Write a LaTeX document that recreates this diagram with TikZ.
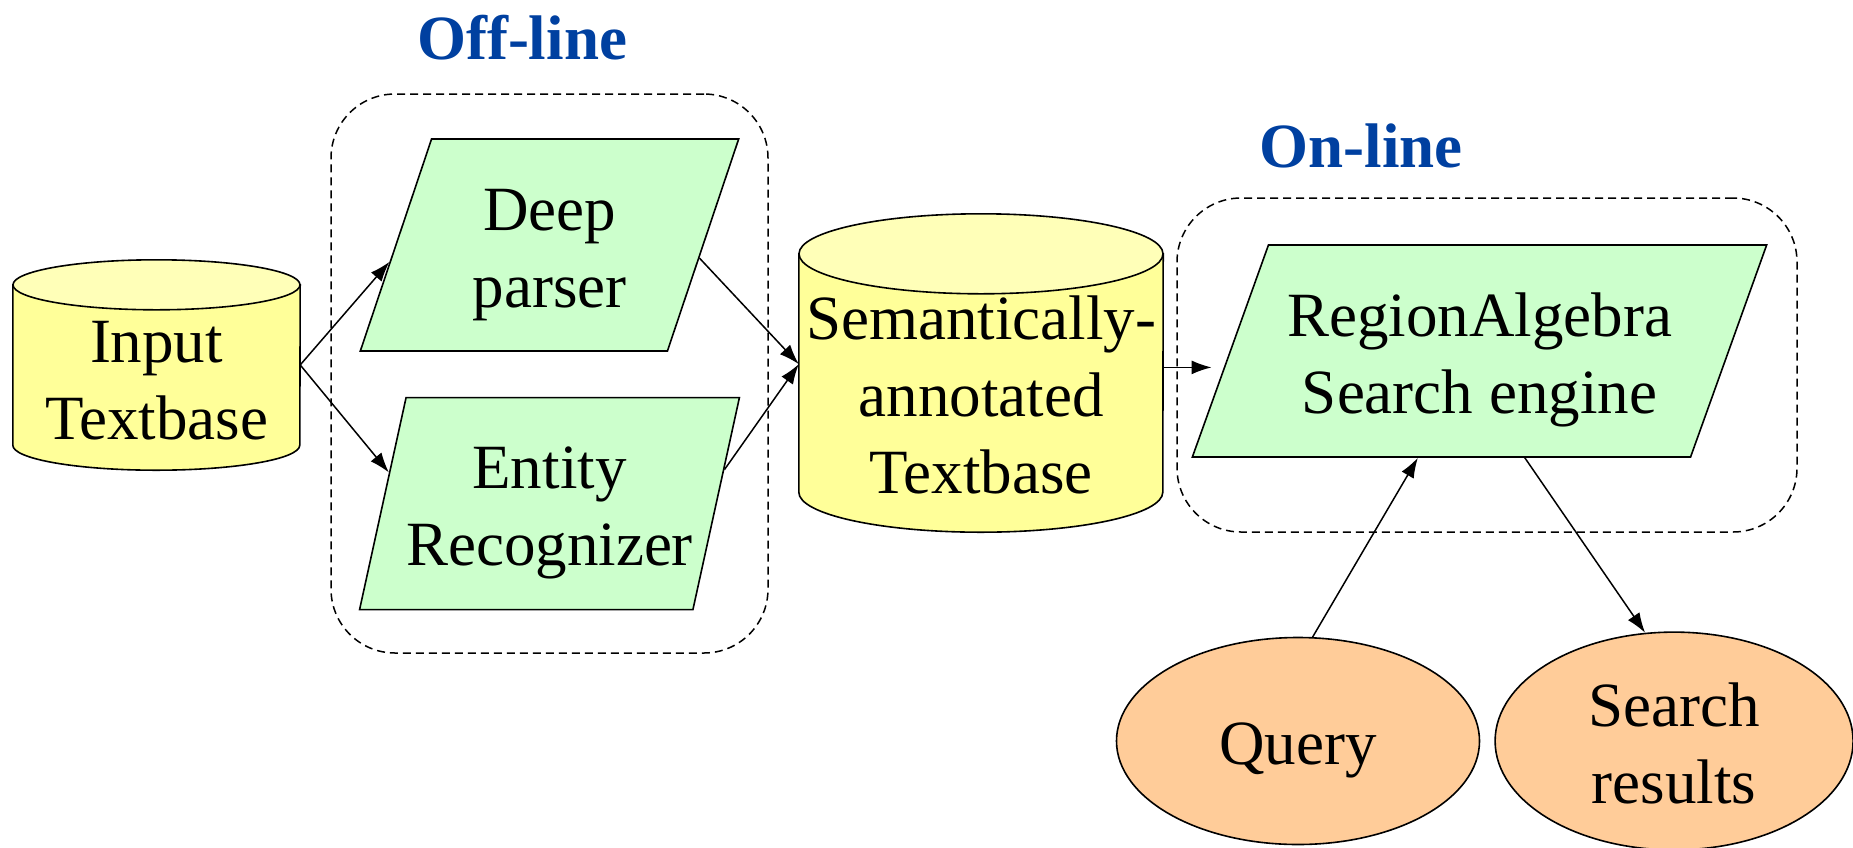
\documentclass[tikz,border=0pt]{standalone}
\usepackage{fontspec}
\setmainfont{Liberation Serif}
\usetikzlibrary{shapes.geometric, positioning, arrows.meta, backgrounds}

\definecolor{dbbody}{RGB}{255,255,153}
\definecolor{dbtop}{RGB}{255,255,184}
\definecolor{procfill}{RGB}{204,255,204}
\definecolor{iofill}{RGB}{255,204,153}
\definecolor{phaseblue}{RGB}{0,64,160}

% line strut: 62pt above, 15pt below the baseline
\newcommand{\ls}{\rule[-15pt]{0pt}{77pt}}
% database drum behind a text node: node, x radius, y radius
\newcommand{\dbshape}[3]{%
	\begin{pgfonlayer}{background}
		\draw [dbline, fill=dbbody] (#1.north west) -- ([yshift=#3]#1.south west)
			arc [start angle=180, end angle=360, x radius=#2, y radius=#3]
			-- (#1.north east) -- cycle;
		\draw [dbline, fill=dbtop] (#1.north) ellipse [x radius=#2, y radius=#3];
	\end{pgfonlayer}}

\begin{document}
\begin{tikzpicture}[x=1pt, y=-1pt, >={Latex[length=20pt,width=14pt]},
	font=\fontsize{63}{77}\selectfont,
	every node/.style={align=center, inner sep=0pt, execute at end node=\ls},
	dbline/.style={draw, line width=1.6pt},
	store/.style={rectangle},
	proc/.style={trapezium, trapezium stretches=true, draw, line width=1.6pt,
		fill=procfill, minimum height=212pt},
	io/.style={ellipse, draw, line width=1.6pt, fill=iofill,
		minimum width=363pt, minimum height=207pt},
	groupbox/.style={draw, line width=1.5pt, dash pattern=on 8pt off 5pt,
		rounded corners=64pt},
	phase/.style={font=\fontsize{63}{77}\selectfont\bfseries, text=phaseblue}]
	\useasboundingbox (0,0) rectangle (1853,847);

	% dashed groups
	\node (offbox) [groupbox, minimum width=437pt, minimum height=559pt] at (549.5,373.5) {};
	\node (onbox) [groupbox, minimum width=620pt, minimum height=334pt] at (1487,365) {};
	\node (offtitle) [phase, anchor=base] at (522,59) {Off-line};
	\node (ontitle) [phase, anchor=base] at (1361,167) {On-line};

	\node (input) [store, minimum width=287pt, minimum height=185pt] at (156.5,377.5) {\ls Input\\Textbase};
	\dbshape{input}{143.5pt}{25pt}
	\node (deep) [proc, minimum width=379pt, trapezium left angle=73.2, trapezium right angle=106.8] at (549.5,245) {\ls Deep\\parser};
	\node (entity) [proc, minimum width=379pt, trapezium left angle=73.2, trapezium right angle=106.8, below=45pt of deep] {\ls Entity\\Recognizer};
	\node (sem) [store, minimum width=364pt, minimum height=278pt] at (981,393) {\ls Semantically-\\annotated\\Textbase};
	\dbshape{sem}{182pt}{40pt}
	\node (region) [proc, minimum width=575pt, trapezium left angle=65.75, trapezium right angle=114.25] at (1479.5,351) {\ls RegionAlgebra\\Search engine};
	\node (query) [io] at (1298,741) {\ls Query};
	\node (results) [io, minimum width=358pt, right=14pt of query] {\ls Search\\results};

	\path [->, line width=1.5pt]
		(input.5) edge (deep.186)
		(input.5) edge (entity.169)
		(deep.-5) edge (sem.171)
		(entity.11) edge (sem.171)
		(sem.8) edge [shorten >=18pt] (sem.8 -| region.west)
		(query.82) edge (region.240)
		(region.293) edge (results.105)
	;
\end{tikzpicture}
\end{document}
